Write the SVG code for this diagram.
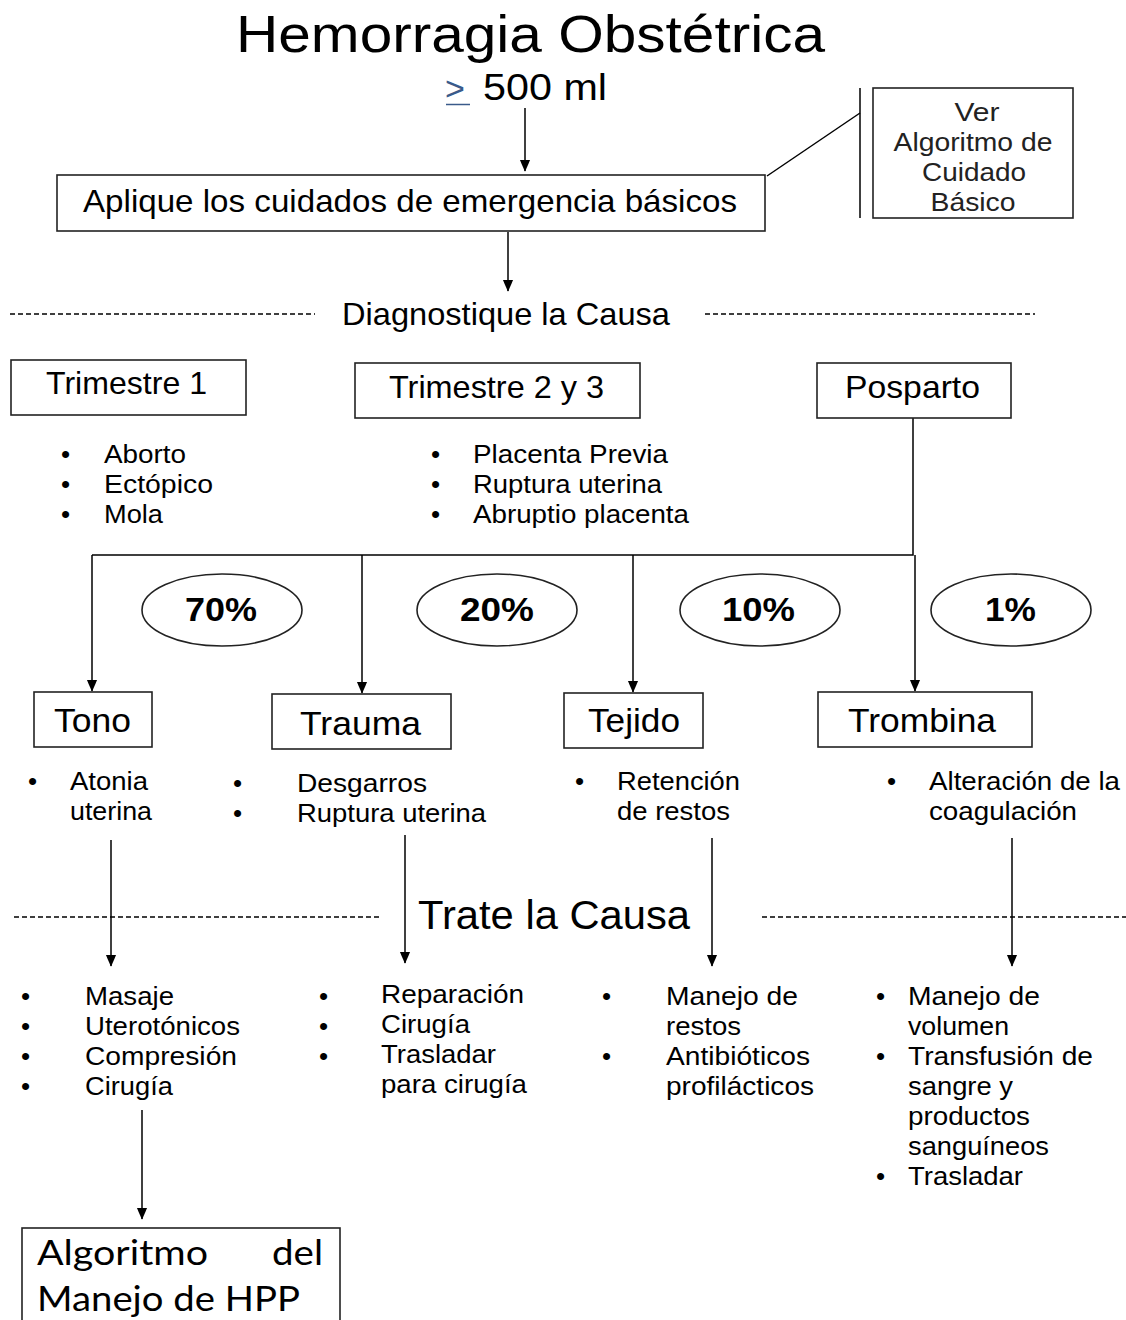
<svg xmlns="http://www.w3.org/2000/svg" width="1126" height="1320" viewBox="0 0 1126 1320">
<style>
text{font-family:"Liberation Sans",Arial,sans-serif;fill:#000}
.box{fill:#fff;stroke:#222;stroke-width:1.6}
.ln{stroke:#000;stroke-width:1.5;fill:none}
.dash{stroke:#000;stroke-width:1.3;stroke-dasharray:5,3;fill:none}
.b{font-size:26px}
.v{font-size:26px;fill:#222}
.h1{font-size:32px}
.h2{font-size:34px}
.pct{font-size:34px;font-weight:bold}
.c{text-anchor:middle}
.cal{font-family:Lato,"Open Sans",sans-serif;font-size:35px}
</style>
<defs>
<marker id="ah" markerWidth="12" markerHeight="14" refX="13" refY="6" orient="auto" markerUnits="userSpaceOnUse" viewBox="0 0 14 12">
<path d="M0,0 L14,6 L0,12 Z" fill="#000"/>
</marker>
</defs>
<rect width="1126" height="1320" fill="#fff"/>

<g id="title">
<text x="236" y="52" font-size="52" textLength="589" lengthAdjust="spacingAndGlyphs">Hemorragia Obstétrica</text>
<text x="445" y="100" font-size="34" style="fill:#3a5a8a">&gt;</text>
<line x1="446" y1="104.5" x2="470" y2="104.5" stroke="#3a5a8a" stroke-width="1.5"/>
<text x="483" y="100" font-size="37" textLength="124" lengthAdjust="spacingAndGlyphs">500 ml</text>
</g>

<g id="connectors">
<line class="ln" x1="525" y1="108" x2="525" y2="171" marker-end="url(#ah)"/>
<line class="ln" x1="508" y1="232" x2="508" y2="291" marker-end="url(#ah)"/>
<line class="ln" x1="767" y1="176" x2="860" y2="113"/>
<line class="ln" x1="860" y1="88" x2="860" y2="218"/>
<polyline class="ln" points="913,418 913,555 92,555"/>
<line class="ln" x1="92" y1="555" x2="92" y2="691" marker-end="url(#ah)"/>
<line class="ln" x1="362" y1="555" x2="362" y2="693" marker-end="url(#ah)"/>
<line class="ln" x1="633" y1="555" x2="633" y2="692" marker-end="url(#ah)"/>
<line class="ln" x1="915" y1="555" x2="915" y2="691" marker-end="url(#ah)"/>
<line class="ln" x1="111" y1="840" x2="111" y2="966" marker-end="url(#ah)"/>
<line class="ln" x1="405" y1="835" x2="405" y2="963" marker-end="url(#ah)"/>
<line class="ln" x1="712" y1="838" x2="712" y2="966" marker-end="url(#ah)"/>
<line class="ln" x1="1012" y1="838" x2="1012" y2="966" marker-end="url(#ah)"/>
<line class="ln" x1="142" y1="1110" x2="142" y2="1219" marker-end="url(#ah)"/>
<line class="dash" x1="10" y1="314" x2="315" y2="314"/>
<line class="dash" x1="705" y1="314" x2="1035" y2="314"/>
<line class="dash" x1="14" y1="917" x2="380" y2="917"/>
<line class="dash" x1="762" y1="917" x2="1126" y2="917"/>
</g>

<g id="aplique">
<rect class="box" x="57" y="175" width="708" height="56"/>
<text x="83" y="212" class="h1" textLength="654" lengthAdjust="spacingAndGlyphs">Aplique los cuidados de emergencia básicos</text>
</g>

<g id="ver-algoritmo">
<rect class="box" x="873" y="88" width="200" height="130"/>
<text x="977" y="121" class="v c" textLength="45" lengthAdjust="spacingAndGlyphs">Ver</text>
<text x="973" y="151" class="v c" textLength="159" lengthAdjust="spacingAndGlyphs">Algoritmo de</text>
<text x="974" y="181" class="v c" textLength="104" lengthAdjust="spacingAndGlyphs">Cuidado</text>
<text x="973" y="211" class="v c" textLength="85" lengthAdjust="spacingAndGlyphs">Básico</text>
</g>

<g id="diagnostique">
<text x="342" y="325" class="h1" textLength="328" lengthAdjust="spacingAndGlyphs">Diagnostique la Causa</text>
</g>

<g id="trimestre1">
<rect class="box" x="11" y="360" width="235" height="55"/>
<text x="46" y="394" class="h1" textLength="161" lengthAdjust="spacingAndGlyphs">Trimestre 1</text>
</g>
<g id="trimestre1-list" class="b">
<text x="61" y="463">•</text><text x="104" y="463" textLength="82" lengthAdjust="spacingAndGlyphs">Aborto</text>
<text x="61" y="493">•</text><text x="104" y="493" textLength="109" lengthAdjust="spacingAndGlyphs">Ectópico</text>
<text x="61" y="523">•</text><text x="104" y="523" textLength="59" lengthAdjust="spacingAndGlyphs">Mola</text>
</g>

<g id="trimestre23">
<rect class="box" x="355" y="363" width="285" height="55"/>
<text x="389" y="398" class="h1" textLength="215" lengthAdjust="spacingAndGlyphs">Trimestre 2 y 3</text>
</g>
<g id="trimestre23-list" class="b">
<text x="431" y="463">•</text><text x="473" y="463" textLength="195" lengthAdjust="spacingAndGlyphs">Placenta Previa</text>
<text x="431" y="493">•</text><text x="473" y="493" textLength="189" lengthAdjust="spacingAndGlyphs">Ruptura  uterina</text>
<text x="431" y="523">•</text><text x="473" y="523" textLength="216" lengthAdjust="spacingAndGlyphs">Abruptio placenta</text>
</g>

<g id="posparto">
<rect class="box" x="817" y="363" width="194" height="55"/>
<text x="845" y="398" class="h1" textLength="135" lengthAdjust="spacingAndGlyphs">Posparto</text>
</g>

<g id="pct70"><ellipse class="box" cx="222" cy="610" rx="80" ry="36"/><text x="185" y="621" class="pct" textLength="72" lengthAdjust="spacingAndGlyphs">70%</text></g>
<g id="pct20"><ellipse class="box" cx="497" cy="610" rx="80" ry="36"/><text x="460" y="621" class="pct" textLength="74" lengthAdjust="spacingAndGlyphs">20%</text></g>
<g id="pct10"><ellipse class="box" cx="760" cy="610" rx="80" ry="36"/><text x="722" y="621" class="pct" textLength="73" lengthAdjust="spacingAndGlyphs">10%</text></g>
<g id="pct1"><ellipse class="box" cx="1011" cy="610" rx="80" ry="36"/><text x="985" y="621" class="pct" textLength="51" lengthAdjust="spacingAndGlyphs">1%</text></g>

<g id="tono">
<rect class="box" x="34" y="692" width="118" height="55"/>
<text x="54" y="732" class="h2" textLength="77" lengthAdjust="spacingAndGlyphs">Tono</text>
</g>
<g id="tono-list" class="b">
<text x="28" y="790">•</text><text x="70" y="790" textLength="78" lengthAdjust="spacingAndGlyphs">Atonia</text>
<text x="70" y="820" textLength="82" lengthAdjust="spacingAndGlyphs">uterina</text>
</g>

<g id="trauma">
<rect class="box" x="272" y="694" width="179" height="55"/>
<text x="300" y="735" class="h2" textLength="121" lengthAdjust="spacingAndGlyphs">Trauma</text>
</g>
<g id="trauma-list" class="b">
<text x="233" y="792">•</text><text x="297" y="792" textLength="130" lengthAdjust="spacingAndGlyphs">Desgarros</text>
<text x="233" y="822">•</text><text x="297" y="822" textLength="189" lengthAdjust="spacingAndGlyphs">Ruptura  uterina</text>
</g>

<g id="tejido">
<rect class="box" x="564" y="693" width="139" height="55"/>
<text x="588" y="732" class="h2" textLength="92" lengthAdjust="spacingAndGlyphs">Tejido</text>
</g>
<g id="tejido-list" class="b">
<text x="575" y="790">•</text><text x="617" y="790" textLength="123" lengthAdjust="spacingAndGlyphs">Retención</text>
<text x="617" y="820" textLength="113" lengthAdjust="spacingAndGlyphs">de restos</text>
</g>

<g id="trombina">
<rect class="box" x="818" y="692" width="214" height="55"/>
<text x="848" y="732" class="h2" textLength="148" lengthAdjust="spacingAndGlyphs">Trombina</text>
</g>
<g id="trombina-list" class="b">
<text x="887" y="790">•</text><text x="929" y="790" textLength="191" lengthAdjust="spacingAndGlyphs">Alteración de la</text>
<text x="929" y="820" textLength="148" lengthAdjust="spacingAndGlyphs">coagulación</text>
</g>

<g id="trate">
<text x="418" y="929" font-size="41" textLength="272" lengthAdjust="spacingAndGlyphs">Trate la Causa</text>
</g>

<g id="tono-tx" class="b">
<text x="21" y="1005">•</text><text x="85" y="1005" textLength="89" lengthAdjust="spacingAndGlyphs">Masaje</text>
<text x="21" y="1035">•</text><text x="85" y="1035" textLength="155" lengthAdjust="spacingAndGlyphs">Uterotónicos</text>
<text x="21" y="1065">•</text><text x="85" y="1065" textLength="152" lengthAdjust="spacingAndGlyphs">Compresión</text>
<text x="21" y="1095">•</text><text x="85" y="1095" textLength="88" lengthAdjust="spacingAndGlyphs">Cirugía</text>
</g>
<g id="trauma-tx" class="b">
<text x="319" y="1005">•</text><text x="381" y="1003" textLength="143" lengthAdjust="spacingAndGlyphs">Reparación</text>
<text x="319" y="1035">•</text><text x="381" y="1033" textLength="89" lengthAdjust="spacingAndGlyphs">Cirugía</text>
<text x="319" y="1065">•</text><text x="381" y="1063" textLength="115" lengthAdjust="spacingAndGlyphs">Trasladar</text>
<text x="381" y="1093" textLength="146" lengthAdjust="spacingAndGlyphs">para cirugía</text>
</g>
<g id="tejido-tx" class="b">
<text x="602" y="1005">•</text><text x="666" y="1005" textLength="132" lengthAdjust="spacingAndGlyphs">Manejo de</text>
<text x="666" y="1035" textLength="75" lengthAdjust="spacingAndGlyphs">restos</text>
<text x="602" y="1065">•</text><text x="666" y="1065" textLength="144" lengthAdjust="spacingAndGlyphs">Antibióticos</text>
<text x="666" y="1095" textLength="148" lengthAdjust="spacingAndGlyphs">profilácticos</text>
</g>
<g id="trombina-tx" class="b">
<text x="876" y="1005">•</text><text x="908" y="1005" textLength="132" lengthAdjust="spacingAndGlyphs">Manejo de</text>
<text x="908" y="1035" textLength="101" lengthAdjust="spacingAndGlyphs">volumen</text>
<text x="876" y="1065">•</text><text x="908" y="1065" textLength="185" lengthAdjust="spacingAndGlyphs">Transfusión  de</text>
<text x="908" y="1095" textLength="105" lengthAdjust="spacingAndGlyphs">sangre y</text>
<text x="908" y="1125" textLength="122" lengthAdjust="spacingAndGlyphs">productos</text>
<text x="908" y="1155" textLength="141" lengthAdjust="spacingAndGlyphs">sanguíneos</text>
<text x="876" y="1185">•</text><text x="908" y="1185" textLength="115" lengthAdjust="spacingAndGlyphs">Trasladar</text>
</g>

<g id="algoritmo-hpp">
<rect class="box" x="22" y="1228" width="318" height="100"/>
<text x="37" y="1265" class="cal" textLength="171" lengthAdjust="spacingAndGlyphs">Algoritmo</text>
<text x="272" y="1265" class="cal" textLength="51" lengthAdjust="spacingAndGlyphs">del</text>
<text x="37" y="1311" class="cal" textLength="263" lengthAdjust="spacingAndGlyphs">Manejo de HPP</text>
</g>
</svg>
